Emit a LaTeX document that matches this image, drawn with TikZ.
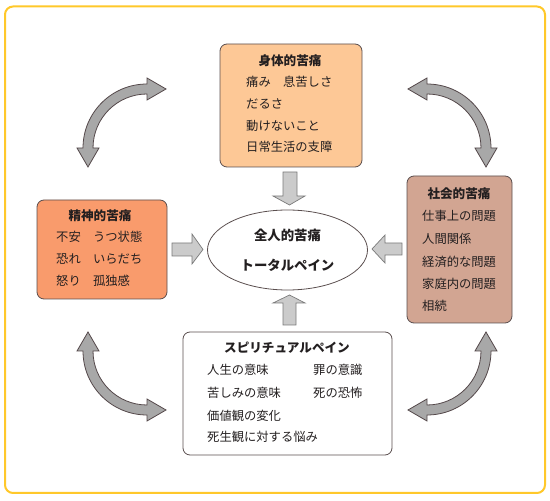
\documentclass[tikz,border=0pt]{standalone}
\usepackage{fontspec}
\setmainfont{Noto Sans CJK JP}
\usetikzlibrary{shapes.geometric}
\definecolor{bordery}{HTML}{FFC82A}
\definecolor{boxline}{HTML}{5A4E4E}
\definecolor{topfill}{HTML}{FDC896}
\definecolor{leftfill}{HTML}{F99B6C}
\definecolor{rightfill}{HTML}{D2A592}
\definecolor{arrowgray}{HTML}{A8A8A8}
\definecolor{arrowdark}{HTML}{54484A}
\definecolor{arrowlight}{HTML}{CBCBCB}
\definecolor{arrowlightline}{HTML}{7A7A7A}
\definecolor{txtcol}{HTML}{231F20}
\begin{document}
\begin{tikzpicture}[x=1pt,y=1pt,
  box/.style={draw=boxline, line width=0.8pt, rounded corners=7pt, inner sep=0pt},
  txt/.style={anchor=west, inner sep=0pt, text=txtcol, font=\fontsize{12.3}{14}\selectfont},
  ttl/.style={inner sep=0pt, text=txtcol, font=\fontsize{12.6}{14}\selectfont\bfseries},
  ctxt/.style={inner sep=0pt, text=txtcol, font=\fontsize{13.4}{15}\selectfont\bfseries},
  blockarrow/.style={fill=arrowlight, draw=arrowlightline, line width=0.7pt},
  curvearrow/.style={fill=arrowgray, draw=arrowdark, line width=0.8pt}]
\useasboundingbox (0,0) rectangle (550,501);
% outer frame
\draw[bordery, line width=2pt, rounded corners=8pt] (5,8) rectangle (545,494.5);

% boxes
\node[box, fill=topfill, minimum width=142pt, minimum height=123pt] (top) at (291,395.5) {};
\node[box, fill=leftfill, minimum width=130pt, minimum height=99pt] (left) at (102,251.5) {};
\node[box, fill=rightfill, minimum width=105pt, minimum height=147pt] (right) at (459.5,251.5) {};
\node[box, fill=white, minimum width=209pt, minimum height=123pt] (bottom) at (287.5,107.5) {};
\node[draw=boxline, line width=0.8pt, ellipse, inner sep=0pt, minimum width=160pt, minimum height=80pt] (center) at (287.5,251) {};

% top box text
\node[ttl] (t0) at (290,440) {身体的苦痛};
\node[txt] (t1) at (246,419) {痛み　息苦しさ};
\node[txt] (t2) at (246,397) {だるさ};
\node[txt] (t3) at (246,375) {動けないこと};
\node[txt] (t4) at (246,354) {日常生活の支障};

% left box text
\node[ttl] (l0) at (100,285) {精神的苦痛};
\node[txt] (l1) at (56,264) {不安　うつ状態};
\node[txt] (l2) at (56,242) {恐れ　いらだち};
\node[txt] (l3) at (56,220) {怒り　孤独感};

% right box text
\node[ttl] (r0) at (459,307) {社会的苦痛};
\node[txt] (r1) at (422,285) {仕事上の問題};
\node[txt] (r2) at (422,262) {人間関係};
\node[txt] (r3) at (422,239) {経済的な問題};
\node[txt] (r4) at (422,217) {家庭内の問題};
\node[txt] (r5) at (422,195) {相続};

% bottom box text
\node[ttl] (b0) at (287,153) {スピリチュアルペイン};
\node[txt] (b1) at (207,131) {人生の意味};
\node[txt] (b2) at (313,131) {罪の意識};
\node[txt] (b3) at (207,108) {苦しみの意味};
\node[txt] (b4) at (313,108) {死の恐怖};
\node[txt] (b5) at (207,85) {価値観の変化};
\node[txt] (b6) at (207,64) {死生観に対する悩み};

% center text
\node[ctxt] (c1) at (287.5,266) {全人的苦痛};
\node[ctxt] (c2) at (287.5,236) {トータルペイン};

% straight block arrows
\draw[blockarrow] (283,329) -- (297,329) -- (297,305) -- (305,305) -- (289.5,296) -- (273,305) -- (283,305) -- cycle;
\draw[blockarrow] (172,258) -- (192,258) -- (192,267) -- (203,251.5) -- (192,237) -- (192,245) -- (172,245) -- cycle;
\draw[blockarrow] (402,258) -- (385,258) -- (385,266) -- (372,252) -- (385,238) -- (385,246) -- (402,246) -- cycle;
\draw[blockarrow] (283,176) -- (296,176) -- (296,198) -- (305,198) -- (289.5,206) -- (273,198) -- (283,198) -- cycle;

% curved double arrows
\draw[curvearrow] (147,417) arc[start angle=90,end angle=180,radius=64pt]
  -- (77,353) -- (88,334) -- (99,353) -- (93,353)
  arc[start angle=180,end angle=90,radius=54pt]
  -- (147,401) -- (166,412) -- (147,423) -- cycle;
\draw[curvearrow] (427,417) arc[start angle=90,end angle=0,radius=64pt]
  -- (497,353) -- (486,334) -- (475,353) -- (481,353)
  arc[start angle=0,end angle=90,radius=54pt]
  -- (427,401) -- (408,412) -- (427,423) -- cycle;
\draw[curvearrow] (83,150) arc[start angle=180,end angle=270,radius=64pt]
  -- (147,80) -- (166,91) -- (147,102) -- (147,96)
  arc[start angle=270,end angle=180,radius=54pt]
  -- (99,150) -- (88,169) -- (77,150) -- cycle;
\draw[curvearrow] (491,150) arc[start angle=0,end angle=-90,radius=64pt]
  -- (427,80) -- (408,91) -- (427,102) -- (427,96)
  arc[start angle=-90,end angle=0,radius=54pt]
  -- (475,150) -- (486,169) -- (497,150) -- cycle;
\end{tikzpicture}
\end{document}
